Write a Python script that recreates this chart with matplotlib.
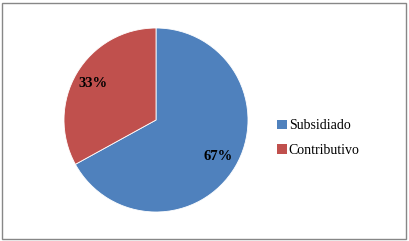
import matplotlib.pyplot as plt
from matplotlib.patches import Rectangle, Patch

labels = ['Subsidiado', 'Contributivo']
values = [67, 33]
colors = ['#4F81BD', '#C0504D']

W, H = 409, 241
fig = plt.figure(figsize=(W / 100, H / 100), dpi=100)

# pie axes: centre about (156,120) px, radius 92 px
cx, cy, r = 156, 120, 92
ax = fig.add_axes([(cx - r) / W, (H - cy - r) / H, 2 * r / W, 2 * r / H])
wedges, texts, autotexts = ax.pie(values, colors=colors, startangle=90, counterclock=False,
                                  autopct='%1.0f%%', pctdistance=0.79, radius=1,
                                  wedgeprops=dict(edgecolor='white', linewidth=0.6),
                                  textprops=dict(family='Liberation Serif', fontsize=10.5,
                                                 fontweight='bold', color='black'))
ax.set_xlim(-1, 1)
ax.set_ylim(-1, 1)
ax.set_aspect('equal')

handles = [Patch(facecolor=c, edgecolor='none') for c in colors]
fig.legend(handles, labels, loc='center left', bbox_to_anchor=(270 / W, 1 - 138 / H),
           frameon=False, handlelength=0.7, handleheight=0.7, handletextpad=0.15,
           labelspacing=0.8, borderpad=0,
           prop=dict(family='Liberation Serif', size=10))

# outer chart border
fig.patches.append(Rectangle((2 / W, 2 / H), 1 - 5 / W, 1 - 5 / H, transform=fig.transFigure,
                             fill=False, edgecolor='#878787', linewidth=1))

fig.savefig('out.png', dpi=100)
